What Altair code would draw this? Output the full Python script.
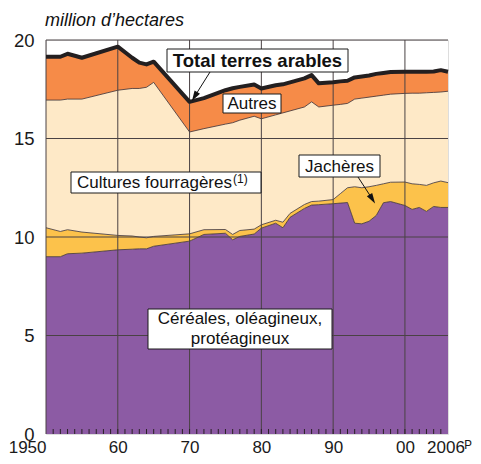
import altair as alt
import pandas as pd

# ---- data (cumulative stack tops, million ha) ----
years = [1950, 1952, 1953, 1955, 1960, 1962, 1963, 1964, 1965, 1970,
         1972, 1975, 1976, 1977, 1979, 1980, 1982, 1983, 1984, 1986,
         1987, 1988, 1990, 1991, 1992, 1993, 1994, 1995, 1996, 1997,
         1998, 2000, 2001, 2002, 2003, 2004, 2005, 2006]
cereales_top = [9.0, 9.0, 9.15, 9.18, 9.35, 9.38, 9.4, 9.4, 9.53, 9.79,
                10.13, 10.19, 9.86, 10.03, 10.15, 10.45, 10.7, 10.47, 11.0, 11.45,
                11.62, 11.64, 11.69, 11.72, 11.75, 10.7, 10.67, 10.8, 11.09, 11.74,
                11.8, 11.6, 11.4, 11.5, 11.3, 11.55, 11.5, 11.5]
jacheres_top = [10.47, 10.28, 10.37, 10.25, 10.08, 10.05, 10.0, 9.96, 10.03, 10.16,
                10.37, 10.38, 10.13, 10.33, 10.4, 10.62, 10.85, 10.75, 11.2, 11.65,
                11.8, 11.82, 11.9, 12.2, 12.5, 12.55, 12.5, 12.55, 12.62, 12.7,
                12.78, 12.79, 12.7, 12.67, 12.62, 12.75, 12.84, 12.76]
fourrageres_top = [16.95, 16.95, 17.0, 17.0, 17.45, 17.54, 17.54, 17.6, 17.85, 15.33,
                   15.5, 15.73, 15.8, 15.93, 16.13, 16.0, 16.2, 16.3, 16.4, 16.6,
                   16.86, 16.6, 16.69, 16.73, 16.78, 17.0, 17.05, 17.1, 17.15, 17.2,
                   17.25, 17.29, 17.3, 17.3, 17.32, 17.34, 17.36, 17.4]
total_top = [19.15, 19.15, 19.3, 19.1, 19.66, 19.1, 18.85, 18.76, 18.9, 16.86,
             17.05, 17.45, 17.55, 17.62, 17.74, 17.54, 17.7, 17.75, 17.85, 18.05,
             18.22, 17.8, 17.85, 17.9, 17.93, 18.1, 18.15, 18.2, 18.28, 18.33,
             18.37, 18.39, 18.39, 18.39, 18.39, 18.4, 18.47, 18.39]

y_ticks = [0, 5, 10, 15, 20]
x_ticks = [1950, 1960, 1970, 1980, 1990, 2000, 2006]
grid_years = [1950, 1960, 1970, 1980, 1990, 2000]
grid_values = [5, 10, 15, 20]
minor_years = list(range(1951, 2006))

label_total = ["Total terres arables"]
label_autres = ["Autres"]
label_fourr = ["Cultures fourragères"]
label_fourr_note = ["(1)"]
label_jach = ["Jachères"]
label_cer = ["Céréales, oléagineux,\nprotéagineux"]
y_title = ["million d’hectares"]

# ---- styling ----
FONT = "Liberation Sans"
C_CER = "#8C5BA4"
C_JAC = "#FCC24B"
C_FOU = "#FEE9C7"
C_AUT = "#F68B48"
C_EDGE = "#3a2f33"
C_GRID = "#4a4244"
W, H = 402, 394

df = pd.DataFrame({"year": years, "cer": cereales_top, "jac": jacheres_top,
                   "four": fourrageres_top, "total": total_top})

xs = alt.Scale(domain=[1950, 2006], nice=False, zero=False)
ys = alt.Scale(domain=[0, 20], nice=False)

x_axis = alt.Axis(
    values=x_ticks,
    labelExpr="datum.value == 1950 ? '1950' : (datum.value == 2006 ? '2006ᴾ' : slice(toString(datum.value), 2))",
    labelAlign={"condition": {"test": "datum.value == 1950", "value": "right"}, "value": "center"},
    labelOffset={"condition": {"test": "datum.value == 2006", "value": 1}, "value": 0},
    labelBaseline="alphabetic",
    labelFontSize=17, labelFont=FONT, labelColor="#1a1a1a", labelPadding=18,
    tickSize=0, domain=False, grid=False, labelOverlap=False, labelBound=False, labelFlush=False,
    title=None,
)
y_axis = alt.Axis(
    values=y_ticks, labelFontSize=18.5, labelFont=FONT, labelColor="#1a1a1a",
    labelPadding=12, tickSize=0, domain=False, grid=False, title=None,
)


def X(field="year"):
    return alt.X(f"{field}:Q", scale=xs, axis=x_axis, title=None)


def Y(field):
    return alt.Y(f"{field}:Q", scale=ys, axis=y_axis, title=None)


base = alt.Chart(df)

area_cer = base.mark_area(color=C_CER).encode(x=X(), y=Y("cer"))
area_jac = base.mark_area(color=C_JAC).encode(x=X(), y=Y("jac"), y2="cer:Q")
area_fou = base.mark_area(color=C_FOU).encode(x=X(), y=Y("four"), y2="jac:Q")
area_aut = base.mark_area(color=C_AUT).encode(x=X(), y=Y("total"), y2="four:Q")

edges = [
    base.mark_line(color=C_EDGE, strokeWidth=0.8).encode(x=X(), y=Y(c))
    for c in ["cer", "jac", "four"]
]

grid_v = alt.Chart(pd.DataFrame({"year": grid_years})).mark_rule(
    color=C_GRID, strokeWidth=1).encode(x=X(), y=alt.value(0), y2=alt.value(H))
grid_h = alt.Chart(pd.DataFrame({"v": grid_values})).mark_rule(
    color=C_GRID, strokeWidth=1).encode(y=Y("v"), x=alt.value(0), x2=alt.value(W))
minor = alt.Chart(pd.DataFrame({"year": minor_years})).mark_rule(
    color="#2a2226", strokeWidth=1).encode(x=X(), y=alt.value(H), y2=alt.value(H - 5))

total_line = base.mark_line(color="#231f20", strokeWidth=4, strokeJoin="round").encode(
    x=X(), y=Y("total"))


def box(labels, x1, y1, x2, y2):
    return alt.Chart(pd.DataFrame({"t": labels})).mark_rect(
        fill="white", stroke="#1a1a1a", strokeWidth=1).encode(
        x=alt.value(x1), x2=alt.value(x2), y=alt.value(y1), y2=alt.value(y2))


def label(labels, x, y, size=17, weight="normal", align="center", baseline="middle",
          style="normal"):
    return alt.Chart(pd.DataFrame({"t": labels})).mark_text(
        font=FONT, fontSize=size, fontWeight=weight, fontStyle=style, align=align,
        baseline=baseline, color="#111111", lineBreak="\n", lineHeight=20).encode(
        text="t:N", x=alt.value(x), y=alt.value(y))


def arrow(labels, x1, y1, x2, y2, angle):
    line = alt.Chart(pd.DataFrame({"t": labels})).mark_rule(
        color="#111111", strokeWidth=1).encode(
        x=alt.value(x1), y=alt.value(y1), x2=alt.value(x2), y2=alt.value(y2))
    head = alt.Chart(pd.DataFrame({"t": labels})).mark_point(
        shape="M0,1 L-0.6,-1 L0.6,-1 Z", filled=True, color="#111111", opacity=1,
        size=110, angle=angle).encode(x=alt.value(x2), y=alt.value(y2))
    return line + head


annotations = [
    label(y_title, -1, -14, size=18, align="left", baseline="alphabetic", style="italic"),
    box(label_total, 121, 9, 302, 32),
    label(label_total, 211.5, 21, size=18.5, weight="bold"),
    arrow(label_total, 164, 32, 148.6, 56.5, 31),
    box(label_autres, 177, 54, 235, 73),
    label(label_autres, 206, 64),
    box(label_fourr, 25, 132, 215, 153),
    label(label_fourr, 31, 143, align="left"),
    label(label_fourr_note, 187, 139, size=12, align="left"),
    box(label_jach, 253, 115, 334, 137),
    label(label_jach, 293.5, 126.5),
    arrow(label_jach, 312, 137, 326.3, 159, 328),
    box(label_cer, 102, 269, 286, 309),
    label(label_cer, 194, 279),
]

chart = alt.layer(
    area_cer, area_jac, area_fou, area_aut, *edges,
    grid_v, grid_h, minor, total_line, *annotations,
).properties(
    width=W, height=H,
    autosize=alt.AutoSizeParams(type="none"),
    padding={"left": 38, "top": 32, "right": 25, "bottom": 22},
).configure_view(
    stroke="#3a3336", strokeWidth=1.2
).configure(background="white")

chart.save("out.html", embed_options={"renderer": "svg", "actions": False})
